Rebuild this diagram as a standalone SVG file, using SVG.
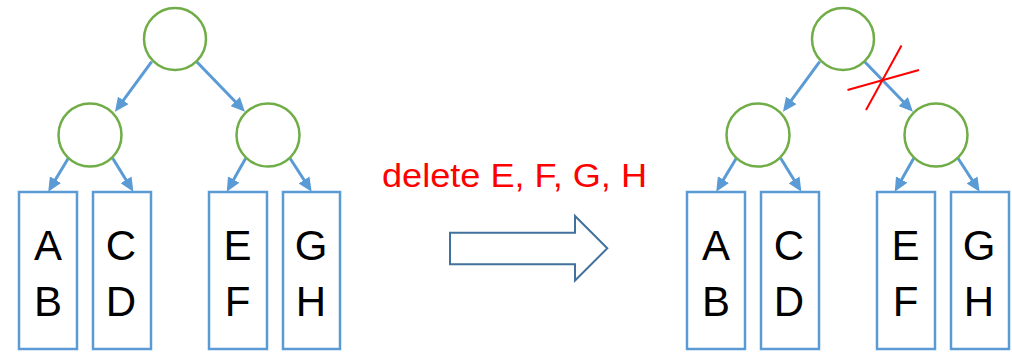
<svg xmlns="http://www.w3.org/2000/svg" width="1012" height="352" viewBox="0 0 1012 352">
<style>
.node{fill:#fff;stroke:#70AD47;stroke-width:2.5}
.leaf{fill:#fff;stroke:#5B9BD5;stroke-width:2.5}
.edge{stroke:#5B9BD5;stroke-width:3;fill:none}
.lbl{font-family:"Liberation Sans",Arial,sans-serif;font-size:42px;fill:#000;text-anchor:middle}
.cap{font-family:"Liberation Sans",Arial,sans-serif;font-size:34px;fill:#FF0000}
.cut{stroke:#FF0000;stroke-width:2}
</style>
<defs>
<marker id="ah" markerUnits="userSpaceOnUse" markerWidth="14" markerHeight="13" refX="4" refY="6.5" orient="auto">
<path d="M0,0 L14,6.5 L0,13 z" fill="#5B9BD5"/>
</marker>
</defs>
<g id="connectors">
<g id="left-edges">
<line class="edge" marker-end="url(#ah)" x1="151.7" y1="61.7" x2="120.9" y2="103.6"/>
<line class="edge" marker-end="url(#ah)" x1="196.7" y1="61.7" x2="238" y2="104.5"/>
<line class="edge" marker-end="url(#ah)" x1="68.3" y1="158.3" x2="53.4" y2="183.1"/>
<line class="edge" marker-end="url(#ah)" x1="112.7" y1="158.3" x2="128.1" y2="183.2"/>
<line class="edge" marker-end="url(#ah)" x1="245.7" y1="158.3" x2="231.7" y2="183"/>
<line class="edge" marker-end="url(#ah)" x1="290" y1="158.3" x2="306.2" y2="183.3"/>
</g>
<g id="right-edges" transform="translate(668,0)">
<line class="edge" marker-end="url(#ah)" x1="151.7" y1="61.7" x2="120.9" y2="103.6"/>
<line class="edge" marker-end="url(#ah)" x1="196.7" y1="61.7" x2="238" y2="104.5"/>
<line class="edge" marker-end="url(#ah)" x1="68.3" y1="158.3" x2="53.4" y2="183.1"/>
<line class="edge" marker-end="url(#ah)" x1="112.7" y1="158.3" x2="128.1" y2="183.2"/>
<line class="edge" marker-end="url(#ah)" x1="245.7" y1="158.3" x2="231.7" y2="183"/>
<line class="edge" marker-end="url(#ah)" x1="290" y1="158.3" x2="306.2" y2="183.3"/>
</g>
</g>
<g id="left-root"><circle class="node" cx="175" cy="39" r="31"/></g>
<g id="left-n1"><circle class="node" cx="90" cy="135" r="31.5"/></g>
<g id="left-n2"><circle class="node" cx="268" cy="135" r="31.5"/></g>
<g id="left-AB"><rect class="leaf" x="19" y="192" width="58" height="157"/><text class="lbl" x="48" y="260">A</text><text class="lbl" x="48" y="316">B</text></g>
<g id="left-CD"><rect class="leaf" x="93" y="192" width="58" height="157"/><text class="lbl" x="121" y="260">C</text><text class="lbl" x="121" y="316">D</text></g>
<g id="left-EF"><rect class="leaf" x="209" y="192" width="58" height="157"/><text class="lbl" x="237.5" y="260">E</text><text class="lbl" x="237.5" y="316">F</text></g>
<g id="left-GH"><rect class="leaf" x="283" y="192" width="57" height="157"/><text class="lbl" x="311" y="260">G</text><text class="lbl" x="311" y="316">H</text></g>

<g id="right-root"><circle class="node" cx="843" cy="39" r="31"/></g>
<g id="right-n1"><circle class="node" cx="758" cy="135" r="31.5"/></g>
<g id="right-n2"><circle class="node" cx="936" cy="135" r="31.5"/></g>
<g id="right-AB"><rect class="leaf" x="687" y="192" width="58" height="157"/><text class="lbl" x="716" y="260">A</text><text class="lbl" x="716" y="316">B</text></g>
<g id="right-CD"><rect class="leaf" x="761" y="192" width="58" height="157"/><text class="lbl" x="789" y="260">C</text><text class="lbl" x="789" y="316">D</text></g>
<g id="right-EF"><rect class="leaf" x="877" y="192" width="58" height="157"/><text class="lbl" x="905.5" y="260">E</text><text class="lbl" x="905.5" y="316">F</text></g>
<g id="right-GH"><rect class="leaf" x="951" y="192" width="58" height="157"/><text class="lbl" x="979" y="260">G</text><text class="lbl" x="979" y="316">H</text></g>

<g id="cut-mark">
<line class="cut" x1="847.5" y1="90" x2="919" y2="70"/>
<line class="cut" x1="901.5" y1="45.5" x2="866" y2="110"/>
</g>

<g id="caption"><text class="cap" x="382" y="187" textLength="265" lengthAdjust="spacingAndGlyphs">delete E, F, G, H</text></g>

<g id="big-arrow">
<path d="M450,232.7 L575,232.7 L575,216 L607.3,248.3 L575,280.5 L575,264.3 L450,264.3 Z" fill="#fff" stroke="#41719C" stroke-width="2"/>
</g>
</svg>
